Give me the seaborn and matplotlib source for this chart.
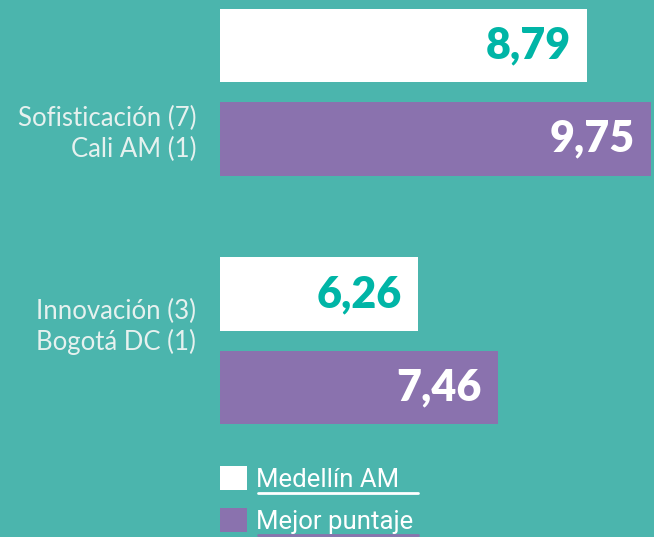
import matplotlib

matplotlib.use("Agg")
import matplotlib.pyplot as plt
import numpy as np
import pandas as pd
import seaborn as sns
from matplotlib.lines import Line2D


BG = "#4BB5AD"
WHITE = "#FFFFFF"
PURPLE = "#8A72AE"
TEAL_TEXT = "#00B5A6"
LABEL_GREY = "#E6F1EF"

# data
GROUPS = ["Sofisticación (7)\nCali AM (1)", "Innovación (3)\nBogotá DC (1)"]
SERIES = ["Medellín AM", "Mejor puntaje"]
MEDELLIN = [8.79, 6.26]
MEJOR = [9.75, 7.46]


def fmt(v):
    return f"{v:.2f}".replace(".", ",")


def main():
    sns.set_theme(style="white")
    plt.rcParams["font.family"] = ["Lato", "DejaVu Sans"]

    df = pd.DataFrame(
        {
            "grupo": GROUPS * 2,
            "serie": [SERIES[0]] * len(GROUPS) + [SERIES[1]] * len(GROUPS),
            "valor": MEDELLIN + MEJOR,
        }
    )

    W, H = 654, 537
    fig = plt.figure(figsize=(W / 100, H / 100), dpi=100, facecolor=BG)
    ax = fig.add_axes([220 / W, (H - 440) / H, 434 / W, 440 / H])
    ax.set_facecolor(BG)

    sns.barplot(
        data=df,
        y="grupo",
        x="valor",
        hue="serie",
        hue_order=SERIES,
        palette=[WHITE, PURPLE],
        saturation=1,
        orient="h",
        width=0.75,
        gap=0.21,
        linewidth=0,
        edgecolor="none",
        ax=ax,
    )

    px_per_unit = 66.8
    ax.set_xlim(220 / px_per_unit, 654 / px_per_unit)
    ax.set_ylim(1.399, -0.371)
    ax.set_xticks([])
    ax.set_yticks([])
    ax.set_xlabel("")
    ax.set_ylabel("")
    for s in ax.spines.values():
        s.set_visible(False)

    # value labels inside bar ends
    text_colors = [TEAL_TEXT, WHITE]
    for cont, col in zip(ax.containers, text_colors):
        for patch in cont:
            v = patch.get_width()
            yc = patch.get_y() + patch.get_height() / 2
            ax.annotate(
                fmt(v),
                xy=(v, yc),
                xytext=(-12, 0),
                textcoords="offset points",
                ha="right",
                va="center",
                fontsize=31,
                fontweight="heavy",
                color=col,
            )

    # category labels on the left
    label_y = [0.168, 0.944]
    for g, yy in zip(GROUPS, label_y):
        ax.text(
            -0.055,
            yy,
            g,
            transform=ax.get_yaxis_transform(),
            ha="right",
            va="center",
            fontsize=18.5,
            fontweight="normal",
            color=LABEL_GREY,
            linespacing=1.25,
        )

    # legend
    sns.move_legend(
        ax,
        loc="upper left",
        bbox_to_anchor=(220 / W, 1 - 466 / H),
        bbox_transform=fig.transFigure,
        title=None,
        frameon=False,
        fontsize=18.5,
        handlelength=1.05,
        handleheight=1.05,
        handletextpad=0.35,
        labelspacing=0.65,
        borderpad=0,
        borderaxespad=0,
    )
    leg = ax.get_legend()
    for t in leg.get_texts():
        t.set_color(WHITE)
        t.set_family(["Roboto", "DejaVu Sans"])
    for h in leg.legend_handles:
        h.set_linewidth(0)

    fig.canvas.draw()
    renderer = fig.canvas.get_renderer()
    inv = fig.transFigure.inverted()
    for t, col in zip(leg.get_texts(), [WHITE, PURPLE]):
        bb = t.get_window_extent(renderer)
        x0, y0 = inv.transform((bb.x0 + 2, bb.y0 - 1))
        x1 = 418 / W
        fig.add_artist(Line2D([x0, x1], [y0, y0], color=col, lw=2, transform=fig.transFigure))

    fig.savefig("out.png", dpi=100, facecolor=BG)
    plt.close(fig)


if __name__ == "__main__":
    main()
